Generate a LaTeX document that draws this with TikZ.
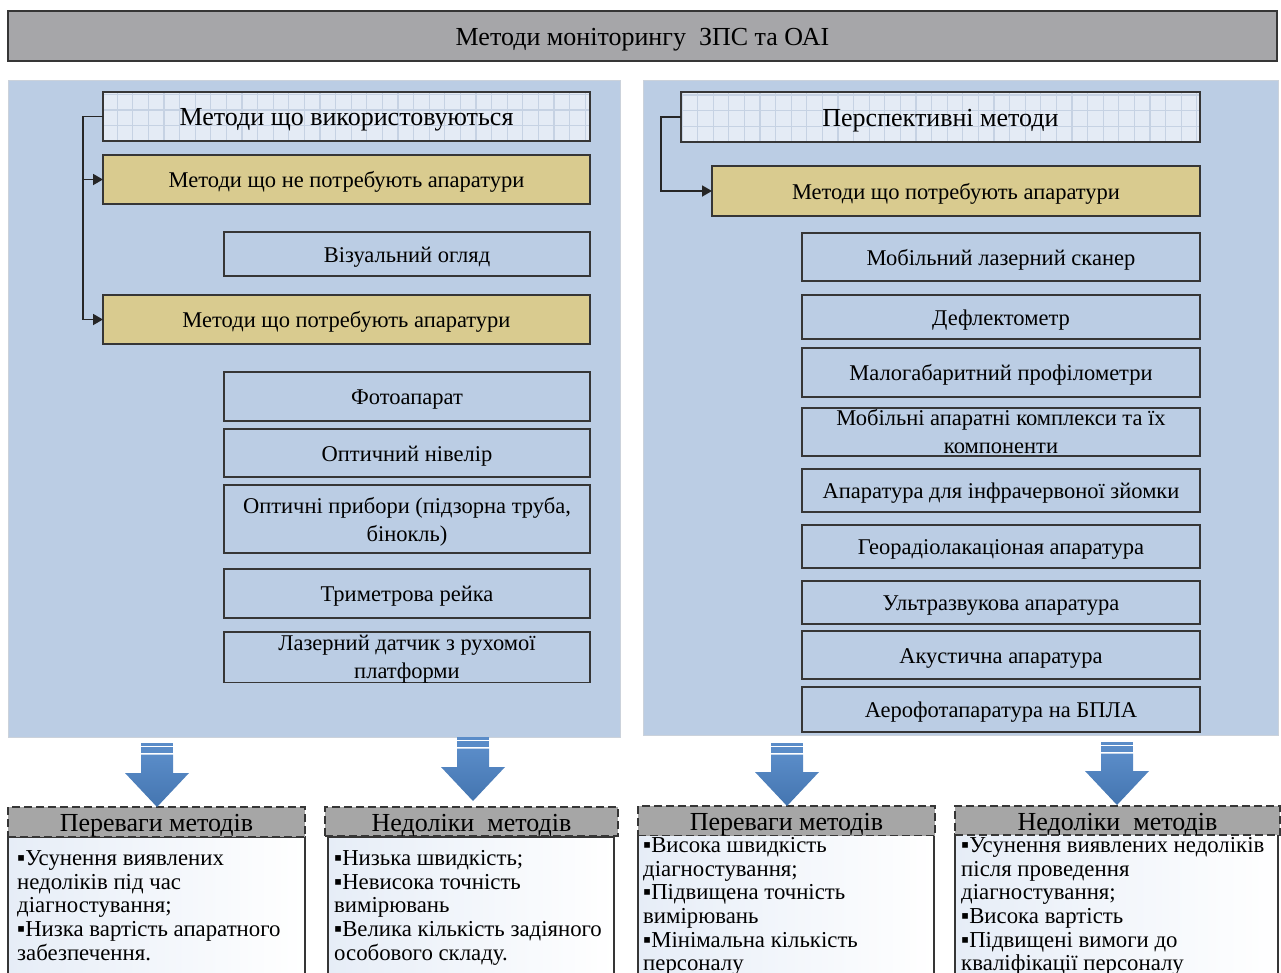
\documentclass[tikz,border=0pt]{standalone}
\usepackage{fontspec}
\setmainfont{Liberation Serif}
\usetikzlibrary{arrows.meta}
\definecolor{panelblue}{HTML}{BBCDE4}
\definecolor{panelline}{HTML}{CBD2DB}
\definecolor{titlegray}{HTML}{A6A6A9}
\definecolor{boxline}{HTML}{363636}
\definecolor{yellowfill}{HTML}{D9CB8F}
\definecolor{gridbg}{HTML}{E4EBF5}
\definecolor{gridln}{HTML}{C6D2E3}
\definecolor{hdrgray}{HTML}{A6A6A6}
\definecolor{arrowtop}{HTML}{5A8CC8}
\definecolor{arrowbot}{HTML}{4475B0}
\definecolor{bodyleft}{HTML}{E6EDF7}
\definecolor{connc}{HTML}{262626}
\newcommand\lowr{\rule{0pt}{21pt}}
\newcommand\lowm{\rule{0pt}{18pt}}
\newcommand\lowR{\rule{0pt}{24pt}}
\tikzset{
  wh/.style 2 args={minimum width=#1, minimum height=#2},
  panel/.style={draw=panelline, fill=panelblue, line width=0.8pt, inner sep=0pt, outer sep=0pt, anchor=north west},
  boxbase/.style={draw=boxline, line width=1.3pt, inner sep=0pt, outer sep=0pt, anchor=north west, align=center},
  titlebox/.style={boxbase, fill=titlegray, font=\fontsize{26}{30}\selectfont},
  gridbox/.style={boxbase, fill=gridbg, font=\fontsize{26}{30}\selectfont,
    path picture={\draw[gridln, line width=1.2pt] (path picture bounding box.south west) grid[step=15.6pt] (path picture bounding box.north east);}},
  yellowbox/.style={boxbase, fill=yellowfill, font=\fontsize{22.5}{26}\selectfont},
  itembox/.style={boxbase, font=\fontsize{22.5}{28}\selectfont},
  bothdr/.style={boxbase, fill=hdrgray, dash pattern=on 8pt off 4pt, line width=1.3pt, font=\fontsize{26}{30}\selectfont},
  botbody/.style={boxbase, left color=bodyleft, right color=white},
  bodytext/.style={anchor=north west, inner sep=0pt, align=left, font=\fontsize{22.8}{23.6}\selectfont},
  conn/.style={draw=connc, line width=1.8pt},
  tip/.style={-{Triangle[length=10pt,width=11pt]}}
}
\newcommand\blkarrow[4]{%
  \fill[arrowtop] ({#1-16},{#2}) rectangle ({#1+16},{#2+2.7});
  \fill[arrowtop] ({#1-16},{#2+4.2}) rectangle ({#1+16},{#2+10});
  \shade[top color=arrowtop, bottom color=arrowbot]
    ({#1-16},{#2+11.5}) -- ({#1+16},{#2+11.5}) -- ({#1+16},{#3}) -- ({#1+32},{#3})
    -- ({#1},{#4}) -- ({#1-32},{#3}) -- ({#1-16},{#3}) -- cycle;
}
\begin{document}
\begin{tikzpicture}[x=1pt,y=-1pt]
\useasboundingbox (0,0) rectangle (1281,972);
\clip (0,0) rectangle (1281,972);

% title
\node[titlebox, wh={1269pt}{50pt}] (title) at (8,11) {\lowR Методи моніторингу~ ЗПС та ОАІ};

% panels
\node[panel, wh={612pt}{657pt}] (lp) at (8,80) {};
\node[panel, wh={635pt}{655pt}] (rp) at (643,80) {};

% left column
\node[gridbox, wh={487pt}{49pt}] (h1) at (103,92) {\lowR Методи що використовуються};
\node[yellowbox, wh={487pt}{49pt}] (y1) at (103,155) {\lowr Методи що не потребують апаратури};
\node[itembox, wh={366pt}{44pt}] (viz) at (224,232) {\lowr Візуальний огляд};
\node[yellowbox, wh={487pt}{49pt}] (y2) at (103,295) {\lowr Методи що потребують апаратури};
\node[itembox, wh={366pt}{49pt}] (foto) at (224,372) {\lowr Фотоапарат};
\node[itembox, wh={366pt}{48pt}] (niv) at (224,429) {\lowr Оптичний нівелір};
\node[itembox, wh={366pt}{68pt}] (pryb) at (224,485) {\lowr Оптичні прибори (підзорна труба,\\бінокль)};
\node[itembox, wh={366pt}{49pt}] (trim) at (224,569) {\lowr Триметрова рейка};
\node[itembox, wh={366pt}{49pt}] (laz) at (224,632) {\lowm Лазерний датчик з рухомої\\платформи};

\draw[conn, tip] (h1.west) -- ++(-20,0) coordinate (c1) |- (y2.west);
\draw[conn, tip] (c1 |- y1.west) -- (y1.west);

% right column
\node[gridbox, wh={519pt}{50pt}] (h2) at (681,92) {\lowR Перспективні методи};
\node[yellowbox, wh={488pt}{50pt}] (y3) at (712,166) {\lowr Методи що потребують апаратури};
\node[itembox, wh={398pt}{48pt}] (mls) at (802,233) {\lowr Мобільний лазерний сканер};
\node[itembox, wh={398pt}{44pt}] (defl) at (802,295) {\lowr Дефлектометр};
\node[itembox, wh={398pt}{49pt}] (malo) at (802,348) {\lowr Малогабаритний профілометри};
\node[itembox, wh={398pt}{48pt}] (mob) at (802,408) {Мобільні апаратні комплекси та їх\\компоненти};
\node[itembox, wh={398pt}{43pt}] (infra) at (802,469) {\lowr Апаратура для інфрачервоної зйомки};
\node[itembox, wh={398pt}{43pt}] (geo) at (802,525) {\lowr Георадіолакаціоная апаратура};
\node[itembox, wh={398pt}{43pt}] (ultra) at (802,581) {\lowr Ультразвукова апаратура};
\node[itembox, wh={398pt}{48pt}] (acou) at (802,631) {\lowr Акустична апаратура};
\node[itembox, wh={398pt}{45pt}] (aero) at (802,687) {\lowr Аерофотапаратура на БПЛА};

\draw[conn, tip] (h2.west) -- ++(-20,0) |- (y3.west);

% bottom boxes
\node[botbody, wh={297pt}{160pt}] (bb1) at (8,837) {};
\node[botbody, wh={286pt}{160pt}] (bb2) at (328,837) {};
\node[botbody, wh={296pt}{160pt}] (bb3) at (638,834) {};
\node[botbody, wh={323pt}{160pt}] (bb4) at (955,834) {};

\node[bothdr, wh={297pt}{28pt}] (bh1) at (8,807) {\lowR Переваги методів};
\node[bothdr, wh={293pt}{28pt}] (bh2) at (325,807) {\lowR Недоліки~ методів};
\node[bothdr, wh={297pt}{28pt}] (bh3) at (638,806) {\lowR Переваги методів};
\node[bothdr, wh={325pt}{28pt}] (bh4) at (955,806) {\lowR Недоліки~ методів};

\node[bodytext] (t1) at (17,849) {\strut▪Усунення виявлених\\недоліків під час\\діагностування;\\▪Низка вартість апаратного\\забезпечення.};
\node[bodytext] (t2) at (334,849) {\strut▪Низька швидкість;\\▪Невисока точність\\вимірювань\\▪Велика кількість задіяного\\особового складу.};
\node[bodytext] (t3) at (643,836) {\strut▪Висока швидкість\\діагностування;\\▪Підвищена точність\\вимірювань\\▪Мінімальна кількість\\персоналу};
\node[bodytext] (t4) at (961,836) {\strut▪Усунення виявлених недоліків\\після проведення\\діагностування;\\▪Висока вартість\\▪Підвищені вимоги до\\кваліфікації персоналу};

% block arrows
\blkarrow{157}{743}{773}{807}
\blkarrow{473}{737}{767}{801}
\blkarrow{787}{743}{772}{806}
\blkarrow{1117}{742}{771}{805}
\end{tikzpicture}
\end{document}
